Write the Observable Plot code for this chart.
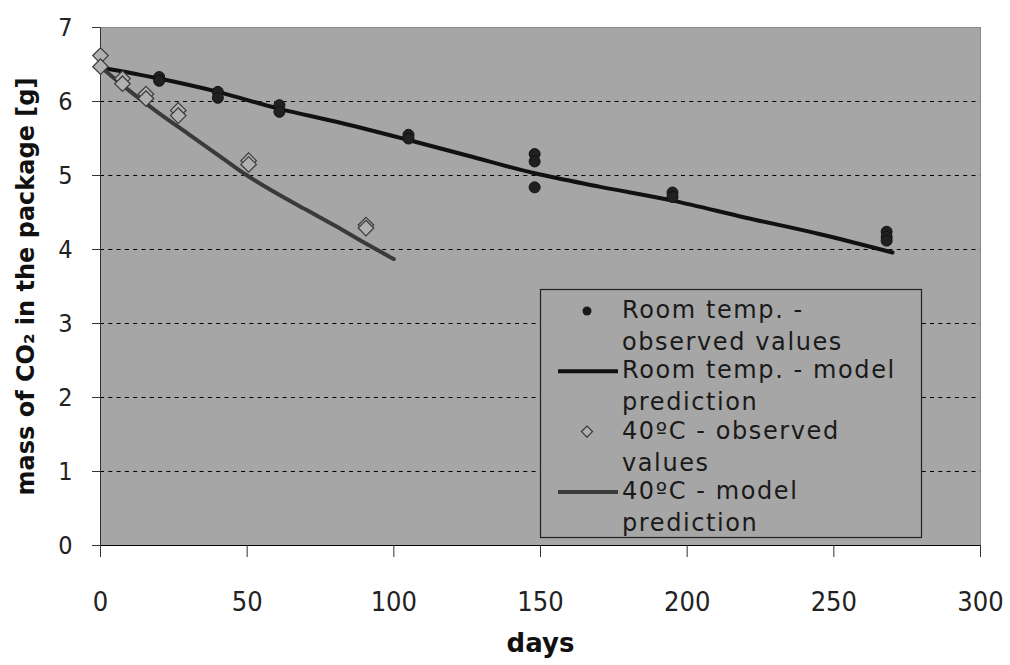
<!DOCTYPE html>
<html>
<head>
<meta charset="utf-8">
<script src="https://cdn.jsdelivr.net/npm/d3@7"></script>
<script src="https://cdn.jsdelivr.net/npm/@observablehq/plot@0.6"></script>
<style>
  html, body { margin: 0; padding: 0; background: #fff; }
  #chart { width: 1010px; height: 665px; }
</style>
</head>
<body>
<div id="chart"></div>
<script>
// Room temperature – observed values
const roomObsDays = [20, 20, 40, 40, 61, 61, 105, 105, 148, 148, 148, 195, 195, 268, 268, 268];
const roomObsMass = [6.33, 6.28, 6.13, 6.05, 5.95, 5.86, 5.55, 5.50, 5.29, 5.19, 4.84, 4.77, 4.71, 4.24, 4.17, 4.12];
// Room temperature – model prediction
const roomModelDays = [0, 20, 40, 61, 80, 105, 125, 148, 170, 195, 220, 245, 270];
const roomModelMass = [6.46, 6.31, 6.13, 5.90, 5.73, 5.48, 5.27, 5.03, 4.85, 4.66, 4.43, 4.21, 3.96];
// 40ºC – observed values
const hotObsDays = [0, 0, 7.5, 7.5, 15.5, 15.5, 26.5, 26.5, 50.5, 50.5, 90.5, 90.5];
const hotObsMass = [6.62, 6.47, 6.31, 6.24, 6.10, 6.04, 5.88, 5.81, 5.20, 5.15, 4.33, 4.29];
// 40ºC – model prediction
const hotModelDays = [0, 10, 20, 30, 40, 50, 60, 70, 80, 90, 100];
const hotModelMass = [6.47, 6.14, 5.84, 5.56, 5.28, 5.00, 4.76, 4.54, 4.32, 4.09, 3.87];

const xTicks = [0, 50, 100, 150, 200, 250, 300];
const yTicks = [0, 1, 2, 3, 4, 5, 6, 7];
const gridValues = [1, 2, 3, 4, 5, 6];

const legendItems = [
  {kind: "dot", lines: ["Room temp. -", "observed values"]},
  {kind: "line", color: "#111", lines: ["Room temp. - model", "prediction"]},
  {kind: "diamond", lines: ["40ºC - observed", "values"]},
  {kind: "line", color: "#3a3a3a", lines: ["40ºC - model", "prediction"]}
];

const zip = (xs, ys) => xs.map((x, i) => ({x, y: ys[i]}));
const roomObs = zip(roomObsDays, roomObsMass);
const roomModel = zip(roomModelDays, roomModelMass);
const hotObs = zip(hotObsDays, hotObsMass);
const hotModel = zip(hotModelDays, hotModelMass);

const FONT = "'DejaVu Sans', sans-serif";
const TICKFONT = "'DejaVu Sans Condensed', 'DejaVu Sans', sans-serif";

const chart = Plot.plot({
  width: 1010,
  height: 665,
  marginLeft: 100,
  marginRight: 30,
  marginTop: 27,
  marginBottom: 120,
  style: {fontFamily: FONT, background: "#fff", color: "#000"},
  x: {domain: [0, 300]},
  y: {domain: [0, 7]},
  marks: [
    Plot.frame({fill: "#a6a6a6", stroke: "#8a8a8a"}),
    Plot.gridY(gridValues, {stroke: "#000", strokeOpacity: 1, strokeDasharray: "4,4.3"}),
    Plot.ruleX([0], {stroke: "#333"}),
    Plot.ruleY([0], {stroke: "#000"}),
    Plot.axisY({ticks: yTicks, tickFormat: d => String(d), tickSize: 8, tickPadding: 20, fontSize: 25, fontFamily: TICKFONT, label: null, stroke: "#333", fill: "#222"}),
    Plot.axisX({ticks: xTicks, tickFormat: d => String(d), tickSize: 12, tickPadding: 34, fontSize: 27, fontFamily: TICKFONT, label: null, stroke: "#333", fill: "#222"}),
    Plot.text(["mass of CO₂ in the package [g]"], {frameAnchor: "left", textAnchor: "middle", rotate: -90, dx: -74, fontSize: 24, fontWeight: "bold", fill: "#111"}),
    Plot.text(["days"], {frameAnchor: "bottom", textAnchor: "middle", dy: 106, fontSize: 26, fontWeight: "bold", fill: "#111", letterSpacing: 1}),
    Plot.line(roomModel, {x: "x", y: "y", stroke: "#111", strokeWidth: 4, curve: "monotone-x"}),
    Plot.line(hotModel, {x: "x", y: "y", stroke: "#3a3a3a", strokeWidth: 4, curve: "monotone-x"}),
    Plot.dot(roomObs, {x: "x", y: "y", r: 5.5, fill: "#202020", stroke: "#111", strokeWidth: 1}),
    Plot.dot(hotObs, {x: "x", y: "y", r: 7, symbol: "diamond2", fill: "#b0b0b0", stroke: "#3a3a3a", strokeWidth: 1.2})
  ]
});
document.getElementById("chart").appendChild(chart);

// Legend drawn inside the plot area
const svg = d3.select(chart);
const lg = svg.append("g").attr("font-family", FONT).attr("text-anchor", "start");
const box = {x: 540, y: 289, w: 381, h: 248};
lg.append("rect").attr("x", box.x + 0.5).attr("y", box.y + 0.5).attr("width", box.w).attr("height", box.h)
  .attr("fill", "#a6a6a6").attr("stroke", "#222").attr("stroke-width", 1.2);
const symX = 587, textX = 622, firstBase = 318, itemStep = 60.3, lineStep = 32;
legendItems.forEach((it, i) => {
  const base = firstBase + i * itemStep;
  const sy = base - 7;
  if (it.kind === "dot") {
    lg.append("circle").attr("cx", symX).attr("cy", sy).attr("r", 4.5).attr("fill", "#1a1a1a");
  } else if (it.kind === "diamond") {
    const s = 5.5;
    lg.append("path").attr("d", `M${symX},${sy - s}L${symX + s},${sy}L${symX},${sy + s}L${symX - s},${sy}Z`)
      .attr("fill", "#b0b0b0").attr("stroke", "#333").attr("stroke-width", 1.2);
  } else {
    lg.append("line").attr("x1", 558).attr("x2", 618).attr("y1", sy).attr("y2", sy)
      .attr("stroke", it.color).attr("stroke-width", 4);
  }
  it.lines.forEach((t, j) => {
    lg.append("text").attr("x", textX).attr("y", base + j * lineStep).attr("text-anchor", "start")
      .attr("font-size", 24).attr("letter-spacing", 1.6).attr("fill", "#1a1a1a").text(t);
  });
});
</script>
</body>
</html>
